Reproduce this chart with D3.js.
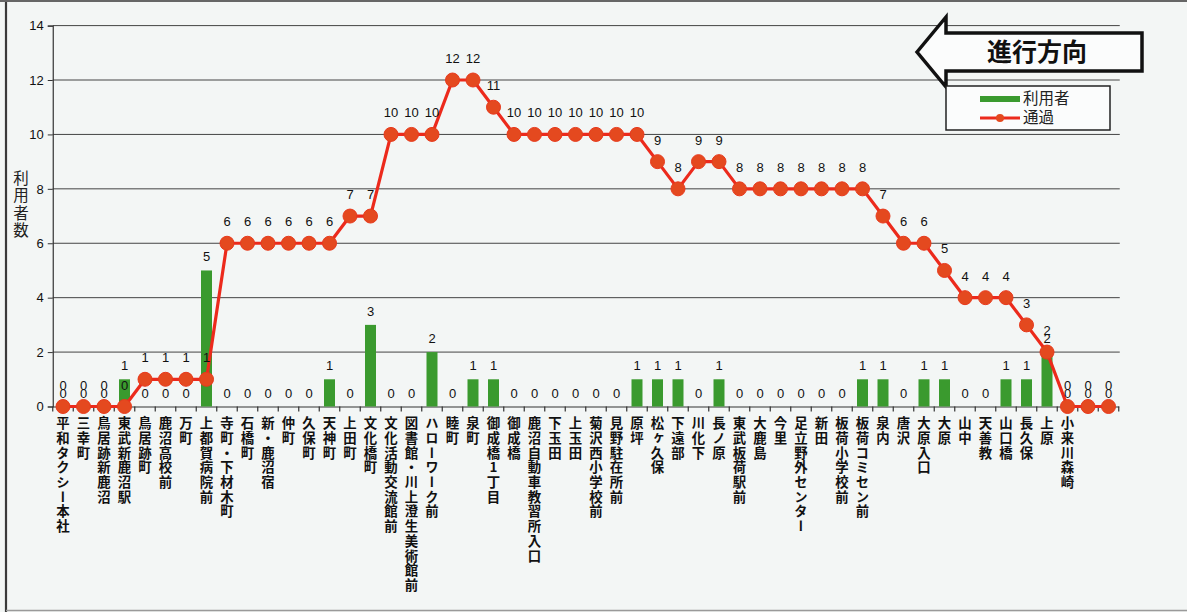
<!DOCTYPE html>
<html><head><meta charset="utf-8">
<script src="https://cdn.jsdelivr.net/npm/d3@7"></script>
<style>
html,body{margin:0;padding:0;background:#f3f6f5;}
svg{display:block;}
</style></head>
<body>
<svg id="c" width="1187" height="612"></svg>
<script>
const stops = ["平和タクシー本社","三幸町","鳥居跡新鹿沼","東武新鹿沼駅","鳥居跡町","鹿沼高校前","万町","上都賀病院前","寺町・下材木町","石橋町","新・鹿沼宿","仲町","久保町","天神町","上田町","文化橋町","文化活動交流館前","図書館・川上澄生美術館前","ハローワーク前","睦町","泉町","御成橋1丁目","御成橋","鹿沼自動車教習所入口","下玉田","上玉田","菊沢西小学校前","見野駐在所前","原坪","松ヶ久保","下遠部","川化下","長ノ原","東武板荷駅前","大鹿島","今里","足立野外センター","新田","板荷小学校前","板荷コミセン前","泉内","唐沢","大原入口","大原","山中","天善教","山口橋","長久保","上原","小来川森崎","",""];
const users = [0,0,0,1,0,0,0,5,0,0,0,0,0,1,0,3,0,0,2,0,1,1,0,0,0,0,0,0,1,1,1,0,1,0,0,0,0,0,0,1,1,0,1,1,0,0,1,1,2,0,0,0];
const passing = [0,0,0,0,1,1,1,1,6,6,6,6,6,6,7,7,10,10,10,12,12,11,10,10,10,10,10,10,10,9,8,9,9,8,8,8,8,8,8,8,7,6,6,5,4,4,4,3,2,0,0,0];
const yTicks = [0,2,4,6,8,10,12,14];
const seriesNames = ["利用者","通過"];
const yTitle = "利用者数";
const directionText = "進行方向";

(function(){
const svg = d3.select("#c");
const W = 1187, H = 612;
const pL = 52.75, pR = 1118.75, pT = 25.6, pB = 406.5;

// frame
svg.append("line").attr("x1",6).attr("x2",6).attr("y1",0).attr("y2",H).attr("stroke","#3a3a3a").attr("stroke-width",2.2);
svg.append("line").attr("x1",0).attr("x2",W).attr("y1",1).attr("y2",1).attr("stroke","#666").attr("stroke-width",2);
svg.append("line").attr("x1",6).attr("x2",W).attr("y1",610.5).attr("y2",610.5).attr("stroke","#9a9a9a").attr("stroke-width",1.5);

const x = d3.scaleBand().domain(d3.range(stops.length)).range([pL,pR]).padding(0);
const y = d3.scaleLinear().domain([0,14]).range([pB,pT]);
const cx = i => x(i) + x.bandwidth()/2;

// gridlines
svg.append("g").selectAll("line").data(yTicks.filter(t=>t>0)).join("line")
  .attr("x1",pL).attr("x2",pR+1).attr("y1",d=>y(d)).attr("y2",d=>y(d))
  .attr("stroke","#444").attr("stroke-width",1);

// y axis
const yAx = svg.append("g").attr("transform",`translate(${pL},0)`)
  .call(d3.axisLeft(y).tickValues(yTicks).tickSize(5).tickPadding(4));
yAx.select(".domain").attr("stroke","#333").attr("stroke-width",1.2);
yAx.selectAll(".tick line").attr("stroke","#333");
yAx.selectAll("text").attr("font-family","Liberation Sans, Arial, sans-serif").attr("font-size",13).attr("fill","#111");

// x axis
const xAx = svg.append("g").attr("transform",`translate(0,${pB})`)
  .call(d3.axisBottom(x).tickSize(0).tickFormat(""));
xAx.select(".domain").attr("stroke","#333").attr("stroke-width",1.2);
svg.append("g").selectAll("line").data(d3.range(stops.length+1)).join("line")
  .attr("x1",i=>pL + i*x.bandwidth()).attr("x2",i=>pL + i*x.bandwidth())
  .attr("y1",pB).attr("y2",pB+5).attr("stroke","#333").attr("stroke-width",1.2);

// category labels (vertical)
svg.append("g").selectAll("text").data(stops).join("text")
  .attr("x",(d,i)=>cx(i)).attr("y",pB+10)
  .style("writing-mode","vertical-rl").style("text-orientation","upright")
  .attr("font-family","Noto Sans CJK JP, sans-serif").attr("font-weight",700)
  .attr("font-size",13.4).attr("letter-spacing",1.3).attr("fill","#111")
  .text(d=>d);

// y title
svg.append("text").attr("x",21).attr("y",170)
  .style("writing-mode","vertical-rl").style("text-orientation","upright")
  .attr("font-family","Noto Sans CJK JP, sans-serif").attr("font-size",15.5).attr("letter-spacing",2)
  .attr("fill","#222").text(yTitle);

// bars
const bw = 11;
svg.append("g").selectAll("rect").data(users).join("rect")
  .attr("x",(d,i)=>cx(i)-bw/2).attr("width",bw)
  .attr("y",d=>y(d)).attr("height",d=>pB-y(d))
  .attr("fill","#3a9a2e");

// line
const line = d3.line().x((d,i)=>cx(i)).y(d=>y(d));
svg.append("path").datum(passing).attr("d",line).attr("fill","none")
  .attr("stroke","#ec2a1c").attr("stroke-width",3.2).attr("stroke-linejoin","round");
svg.append("g").selectAll("circle").data(passing).join("circle")
  .attr("cx",(d,i)=>cx(i)).attr("cy",d=>y(d)).attr("r",7)
  .attr("fill","#e4491f").attr("stroke","#e8391c").attr("stroke-width",1);

// data labels
const lblFont = "Liberation Sans, Arial, sans-serif";
svg.append("g").selectAll("text").data(users).join("text")
  .attr("x",(d,i)=>cx(i)).attr("y",d=>y(d)-9).attr("text-anchor","middle")
  .attr("font-family",lblFont).attr("font-size",13).attr("fill","#111").text(d=>d);
svg.append("g").selectAll("text").data(passing).join("text")
  .attr("x",(d,i)=>cx(i)).attr("y",d=>y(d)-17).attr("text-anchor","middle")
  .attr("font-family",lblFont).attr("font-size",13).attr("fill","#111").text(d=>d);

// direction arrow
const arrow = d3.path();
arrow.moveTo(917,52); arrow.lineTo(946,17); arrow.lineTo(946,33); arrow.lineTo(1142,33);
arrow.lineTo(1142,71); arrow.lineTo(946,71); arrow.lineTo(946,87); arrow.closePath();
svg.append("path").attr("d",arrow.toString()).attr("fill","#fbfcfc").attr("stroke","#111")
  .attr("stroke-width",3.5).attr("stroke-linejoin","miter");
svg.append("text").attr("x",1037).attr("y",61).attr("text-anchor","middle")
  .attr("font-family","Noto Sans CJK JP, sans-serif").attr("font-weight",700).attr("font-size",25)
  .attr("fill","#111").text(directionText);

// legend
const lg = svg.append("g");
lg.append("rect").attr("x",946).attr("y",86).attr("width",164).attr("height",44)
  .attr("fill","#fbfcfc").attr("stroke","#222").attr("stroke-width",1.5);
lg.append("line").attr("x1",980).attr("x2",1020).attr("y1",99).attr("y2",99).attr("stroke","#3a9a2e").attr("stroke-width",6);
lg.append("line").attr("x1",980).attr("x2",1020).attr("y1",118).attr("y2",118).attr("stroke","#ec2a1c").attr("stroke-width",3);
lg.append("circle").attr("cx",1000).attr("cy",118).attr("r",4).attr("fill","#e4491f");
lg.selectAll("text.lt").data(seriesNames).join("text").attr("class","lt")
  .attr("x",1023).attr("y",(d,i)=>104+i*19)
  .attr("font-family","Noto Sans CJK JP, sans-serif").attr("font-size",15.5).attr("fill","#222").text(d=>d);
})();
</script>
</body></html>
